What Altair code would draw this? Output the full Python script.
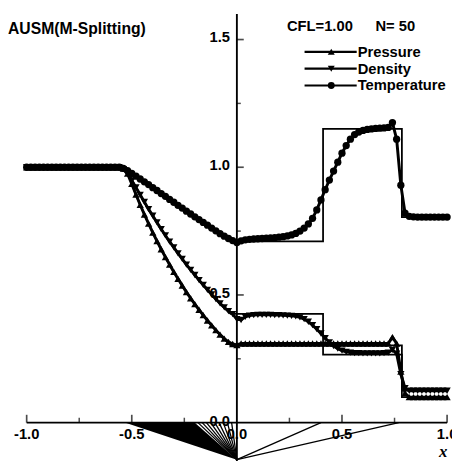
import altair as alt
import pandas as pd

# ---------------- data ----------------
xs = [round(-1.0 + 0.02 * i, 2) for i in range(101)]

pressure = (
    [1.0] * 23 +
    [0.995, 0.975, 0.935, 0.893, 0.853, 0.815, 0.779, 0.744, 0.711, 0.679,
     0.648, 0.619, 0.590, 0.563, 0.537, 0.511, 0.487, 0.464, 0.442, 0.421,
     0.400, 0.381, 0.362, 0.345, 0.329, 0.316, 0.308] +
    [0.304] +
    [0.31] * 36 +
    [0.335, 0.31, 0.20, 0.115] +
    [0.10] * 10
)

density = (
    [1.0] * 23 +
    [0.993, 0.975, 0.948, 0.921, 0.892, 0.864, 0.836, 0.810, 0.784, 0.758,
     0.733, 0.709, 0.686, 0.663, 0.641, 0.619, 0.598, 0.578, 0.558, 0.539,
     0.520, 0.502, 0.484, 0.467, 0.451, 0.437, 0.425] +
    [0.405] +
    [0.402, 0.414, 0.419,
     0.421, 0.422, 0.422, 0.422, 0.422, 0.421, 0.421, 0.420, 0.419, 0.418, 0.416,
     0.412, 0.405, 0.395, 0.382, 0.366, 0.349, 0.331, 0.314, 0.300, 0.290, 0.282, 0.277, 0.274,
     0.272, 0.272, 0.271, 0.271, 0.271, 0.271, 0.271, 0.272, 0.274] +
    [0.285, 0.27, 0.19, 0.135] +
    [0.125] * 10
)

temperature = (
    [1.0] * 23 +
    [0.996, 0.987, 0.976, 0.965, 0.954, 0.943, 0.932, 0.920, 0.909, 0.897,
     0.886, 0.874, 0.863, 0.851, 0.840, 0.828, 0.817, 0.806, 0.795, 0.784,
     0.773, 0.762, 0.751, 0.740, 0.730, 0.721, 0.713] +
    [0.705] +
    [0.712,
     0.716, 0.718, 0.719, 0.720, 0.721, 0.722, 0.723, 0.724, 0.726, 0.728, 0.731, 0.735,
     0.741, 0.750, 0.762, 0.778, 0.800, 0.833, 0.872, 0.912, 0.950, 0.985, 1.020, 1.055,
     1.085, 1.110, 1.128, 1.138, 1.144, 1.148, 1.150, 1.152, 1.153, 1.154, 1.156] +
    [1.175, 1.110, 0.930, 0.820] +
    [0.808, 0.806, 0.805, 0.805, 0.805, 0.805, 0.805, 0.805, 0.805, 0.805]
)

# exact solution (thin lines)
ex_p_x = [-1.0, -0.53, -0.48, -0.43, -0.38, -0.33, -0.28, -0.23, -0.18, -0.13, -0.08, -0.03, 0.785, 0.785, 1.0]
ex_p_y = [1.0, 1.0, 0.891, 0.796, 0.710, 0.632, 0.562, 0.498, 0.441, 0.390, 0.343, 0.303, 0.303, 0.10, 0.10]
ex_d_x = [-1.0, -0.53, -0.48, -0.43, -0.38, -0.33, -0.28, -0.23, -0.18, -0.13, -0.08, -0.03, 0.41, 0.41, 0.785, 0.785, 1.0]
ex_d_y = [1.0, 1.0, 0.921, 0.849, 0.783, 0.721, 0.663, 0.608, 0.557, 0.510, 0.466, 0.426, 0.426, 0.266, 0.266, 0.125, 0.125]
ex_t_x = [-1.0, -0.53, -0.48, -0.43, -0.38, -0.33, -0.28, -0.23, -0.18, -0.13, -0.08, -0.03, 0.41, 0.41, 0.785, 0.785, 1.0]
ex_t_y = [1.0, 1.0, 0.968, 0.937, 0.907, 0.877, 0.848, 0.820, 0.792, 0.764, 0.737, 0.710, 0.710, 1.150, 1.150, 0.805, 0.805]

# wave diagram under the axis
fan_apex = (0.0, -0.145)
fan_fill_edges = (-0.53, -0.20)
fan_rays = [-0.185, -0.165, -0.145, -0.125, -0.105, -0.085, -0.065, -0.045, -0.025, 0.40, 0.77]

# axis ticks / labels
x_major = [-1.0, -0.5, 0.5, 1.0]
x_minor = [-0.75, -0.25, 0.25, 0.75]
x_labels = ["-1.0", "-0.5", "0.0", "0.5", "1.0"]
x_label_vals = [-1.0, -0.5, 0.0, 0.5, 1.0]
y_major = [0.5, 1.0, 1.5]
y_minor = [0.25, 0.75, 1.25]
y_labels = ["0.0", "0.5", "1.0", "1.5"]
y_label_vals = [0.0, 0.5, 1.0, 1.5]

series_names = ["Pressure", "Density", "Temperature"]
shapes = ["triangle-up", "triangle-down", "circle"]

# ---------------- frames ----------------
num = pd.DataFrame({
    "x": xs * 3,
    "y": pressure + density + temperature,
    "var": ["Pressure"] * 101 + ["Density"] * 101 + ["Temperature"] * 101,
    "i": list(range(101)) * 3,
})
exact = pd.DataFrame({
    "x": ex_p_x + ex_d_x + ex_t_x,
    "y": ex_p_y + ex_d_y + ex_t_y,
    "var": ["Pressure"] * len(ex_p_x) + ["Density"] * len(ex_d_x) + ["Temperature"] * len(ex_t_x),
    "i": list(range(len(ex_p_x))) + list(range(len(ex_d_x))) + list(range(len(ex_t_x))),
})
fan_fill = pd.DataFrame({"y": [fan_apex[1], 0.0], "x": [fan_apex[0], fan_fill_edges[0]],
                         "x2": [fan_apex[0], fan_fill_edges[1]]})
rays = pd.DataFrame({
    "x": [v for r in fan_rays for v in (fan_apex[0], r)],
    "y": [v for r in fan_rays for v in (fan_apex[1], 0.0)],
    "ray": [k for k in range(len(fan_rays)) for _ in (0, 1)],
    "i": [0, 1] * len(fan_rays),
})

XS = alt.Scale(domain=[-1.0, 1.0], nice=False, zero=False)
YS = alt.Scale(domain=[-0.15, 1.6], nice=False, zero=False)
shape_scale = alt.Scale(domain=series_names, range=shapes)

FONT = "Liberation Sans"

def X(f="x"):
    return alt.X(f, type="quantitative", scale=XS, axis=None)

def Y(f="y"):
    return alt.Y(f, type="quantitative", scale=YS, axis=None)

fan_area = alt.Chart(fan_fill).mark_area(orient="horizontal", color="black").encode(
    y=Y(), x=X(), x2="x2")
fan_lines = alt.Chart(rays).mark_line(color="black", strokeWidth=1.3).encode(
    x=X(), y=Y(), detail="ray:N", order="i:Q")

axis_df = pd.DataFrame({"x": [-1.0], "x2": [1.0], "y": [0.0], "y0": [-0.15], "y1": [1.6], "xz": [0.0]})
x_axis = alt.Chart(axis_df).mark_rule(color="black", strokeWidth=1.9).encode(x=X(), x2="x2", y=Y())
y_axis = alt.Chart(axis_df).mark_rule(color="black", strokeWidth=1.9).encode(x=X("xz"), y=Y("y0"), y2="y1")

xt_major = alt.Chart(pd.DataFrame({"x": x_major, "y": [0.0] * 4})).mark_tick(
    orient="vertical", size=8, thickness=1.7, color="black", yOffset=-4).encode(x=X(), y=Y())
xt_minor = alt.Chart(pd.DataFrame({"x": x_minor, "y": [0.0] * 4})).mark_tick(
    orient="vertical", size=5, thickness=1.5, color="black", yOffset=-2.5).encode(x=X(), y=Y())
yt_major = alt.Chart(pd.DataFrame({"x": [0.0] * 3, "y": y_major})).mark_tick(
    orient="horizontal", size=7, thickness=1.7, color="black", xOffset=3.5).encode(x=X(), y=Y())
yt_minor = alt.Chart(pd.DataFrame({"x": [0.0] * 3, "y": y_minor})).mark_tick(
    orient="horizontal", size=4, thickness=1.5, color="black", xOffset=2).encode(x=X(), y=Y())

x_lab = alt.Chart(pd.DataFrame({"x": x_label_vals, "y": [0.0] * 5, "t": x_labels})).mark_text(
    font=FONT, fontWeight="bold", fontSize=15, dy=12, baseline="middle", align="center", color="black"
).encode(x=X(), y=Y(), text="t:N")
y_lab = alt.Chart(pd.DataFrame({"x": [0.0] * 4, "y": y_label_vals, "t": y_labels})).mark_text(
    font=FONT, fontWeight="bold", fontSize=15, dx=-7, dy=-2, baseline="middle", align="right", color="black"
).encode(x=X(), y=Y(), text="t:N")

exact_lines = alt.Chart(exact).mark_line(color="black", strokeWidth=1.8).encode(
    x=X(), y=Y(), detail="var:N", order="i:Q")
num_lines = alt.Chart(num).mark_line(color="black", strokeWidth=3).encode(
    x=X(), y=Y(), detail="var:N", order="i:Q")
num_pts = alt.Chart(num).mark_point(filled=True, color="black", opacity=1, size=55).encode(
    x=X(), y=Y(), shape=alt.Shape("var:N", scale=shape_scale, legend=None))

# legend drawn in data coordinates
leg = pd.DataFrame({"name": series_names, "x": [0.322] * 3, "x2": [0.570] * 3,
                    "xm": [0.449] * 3, "y": [1.452, 1.386, 1.320]})
leg_rule = alt.Chart(leg).mark_rule(color="black", strokeWidth=2.2).encode(x=X(), x2="x2", y=Y())
leg_pts = alt.Chart(leg).mark_point(filled=True, color="black", opacity=1, size=50).encode(
    x=X("xm"), y=Y(), shape=alt.Shape("name:N", scale=shape_scale, legend=None))
leg_txt = alt.Chart(leg).mark_text(font=FONT, fontWeight="bold", fontSize=15, align="left",
                                   baseline="middle", dx=1, color="black").encode(
    x=X("x2"), y=Y(), text="name:N")

anno = pd.DataFrame({"a": [0]})
title_txt = alt.Chart(anno).mark_text(text="AUSM(M-Splitting)", font=FONT, fontWeight="bold", fontSize=16,
                                      align="left", baseline="middle", color="black").encode(
    x=alt.value(-19), y=alt.value(15))
cfl_txt = alt.Chart(anno).mark_text(text="CFL=1.00", font=FONT, fontWeight="bold", fontSize=15,
                                    align="left", baseline="middle", color="black").encode(
    x=alt.value(265), y=alt.value(12))
n_txt = alt.Chart(anno).mark_text(text="N= 50", font=FONT, fontWeight="bold", fontSize=15,
                                  align="left", baseline="middle", color="black").encode(
    x=alt.value(355), y=alt.value(12))
xname = alt.Chart(anno).mark_text(text="x", font="Liberation Serif", fontWeight="bold", fontStyle="italic",
                                  fontSize=17, align="center", baseline="middle", color="black").encode(
    x=alt.value(424), y=alt.value(446))

chart = alt.layer(
    fan_area, fan_lines, x_axis, y_axis, xt_major, xt_minor, yt_major, yt_minor,
    exact_lines, num_lines, num_pts, x_lab, y_lab,
    leg_rule, leg_pts, leg_txt, title_txt, cfl_txt, n_txt, xname,
).properties(
    width=428, height=455,
    padding={"left": 19, "top": 2, "right": 5, "bottom": 0},
    autosize=alt.AutoSizeParams(type="none"),
    background="white",
).configure_view(stroke=None)

chart.save("out.html", embed_options={"renderer": "svg", "actions": False})
